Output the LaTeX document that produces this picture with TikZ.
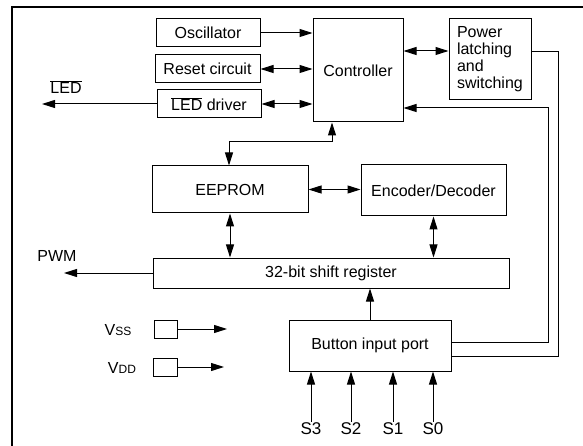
\documentclass[tikz,border=0pt]{standalone}
\usepackage{fontspec}
\setmainfont{Liberation Sans}
\usetikzlibrary{arrows.meta}
\begin{document}
\begin{tikzpicture}[x=1pt,y=-1pt,
  every node/.style={font=\fontsize{16}{19}\selectfont},
  box/.style={draw,line width=1pt,inner sep=0pt},
  wire/.style={line width=1pt},
  tip/.style={-{Triangle[length=13pt,width=8pt]}},
  tips/.style={{Triangle[length=13pt,width=8pt]}-{Triangle[length=13pt,width=8pt]}}]
\useasboundingbox (0,0) rectangle (583,446);
\draw[line width=2.5pt] (12,470) -- (12,7) -- (600,7);
% blocks
\node[box,minimum width=104pt,minimum height=28pt] (osc) at (208,33) {Oscillator};
\node[box,minimum width=105pt,minimum height=28pt] (rst) at (207.5,69) {Reset circuit};
\node[box,minimum width=104pt,minimum height=28pt] (led) at (209,104) {$\overline{\hbox{LED}}$ driver};
\node[box,minimum width=90pt,minimum height=103pt] (ctrl) at (358,70.5) {Controller};
\node[box,minimum width=82pt,minimum height=81pt,text width=66pt,align=left,inner xsep=8pt,font=\fontsize{16}{17}\selectfont] (pwr) at (490,59.5) {Power\\latching\\and\\switching};
\node[box,minimum width=156pt,minimum height=47pt] (eep) at (230,189.5) {EEPROM};
\node[box,minimum width=145pt,minimum height=51pt] (enc) at (433.5,190.5) {Encoder/Decoder};
\node[box,minimum width=356pt,minimum height=30pt] (shr) at (331,273) {32-bit shift register};
\node[box,minimum width=162pt,minimum height=51pt] (btn) at (370,345.5) {Button input port};
\node[box,minimum width=23pt,minimum height=18pt] (vssb) at (165.5,329) {};
\node[box,minimum width=24pt,minimum height=18pt] (vddb) at (165,367) {};
% labels
\node (ledl) at (66,87) {$\overline{\hbox{LED}}$};
\node (pwml) at (57,256) {PWM};
\node (vssl) at (118,330) {V{\fontsize{12}{14}\selectfont SS}};
\node (vddl) at (122,368) {V{\fontsize{12}{14}\selectfont DD}};
\node[anchor=north,inner sep=0pt,font=\fontsize{17}{19}\selectfont] (s3) at (311,422) {S3};
\node[anchor=north,inner sep=0pt,font=\fontsize{17}{19}\selectfont] (s2) at (351,422) {S2};
\node[anchor=north,inner sep=0pt,font=\fontsize{17}{19}\selectfont] (s1) at (393,422) {S1};
\node[anchor=north,inner sep=0pt,font=\fontsize{17}{19}\selectfont] (s0) at (433,422) {S0};
% helper coordinates
\coordinate (ledout) at (42,104);
\coordinate (pwmout) at (64,273);
\coordinate (vssout) at (227,329);
\coordinate (vddout) at (224,367);
\coordinate (y51) at (0,51);
\coordinate (y52) at (0,52);
\coordinate (y108) at (0,108);
\coordinate (y342) at (0,342);
\coordinate (y356) at (0,356);
\coordinate (y142) at (0,142);
\coordinate (xa) at (558,0);
\coordinate (xb) at (548,0);
\coordinate (xc) at (332,0);
\coordinate (xd) at (229,0);
% connectors
\draw[wire,tip] (osc.east) -- (osc.east -| ctrl.west);
\draw[wire,tips] (rst.east) -- (rst.east -| ctrl.west);
\draw[wire,tips] (led.east) -- (led.east -| ctrl.west);
\draw[wire,tip] (led.west) -- (ledout);
\draw[wire,tips] (ctrl.east |- y51) -- (pwr.west |- y51);
\draw[wire] (pwr.east |- y52) -- (xa |- y52) -- (xa |- y356) -- (btn.east |- y356);
\draw[wire,tip] (btn.east |- y342) -- (xb |- y342) -- (xb |- y108) -- (ctrl.east |- y108);
\draw[wire,tips] (eep.north -| xd) -- (xd |- y142) -- (xc |- y142) -- (ctrl.south -| xc);
\draw[wire,tips] (eep.east) -- (eep.east -| enc.west);
\draw[wire,tips] (eep.south) -- (eep.south |- shr.north);
\draw[wire,tips] (enc.south) -- (enc.south |- shr.north);
\draw[wire,tip] (shr.west) -- (pwmout);
\draw[wire,tip] (btn.north) -- (btn.north |- shr.south);
\draw[wire,tip] (vssb.east) -- (vssout);
\draw[wire,tip] (vddb.east) -- (vddout);
\draw[wire,tip] (s3.north) -- (s3.north |- btn.south);
\draw[wire,tip] (s2.north) -- (s2.north |- btn.south);
\draw[wire,tip] (s1.north) -- (s1.north |- btn.south);
\draw[wire,tip] (s0.north) -- (s0.north |- btn.south);
\end{tikzpicture}
\end{document}
